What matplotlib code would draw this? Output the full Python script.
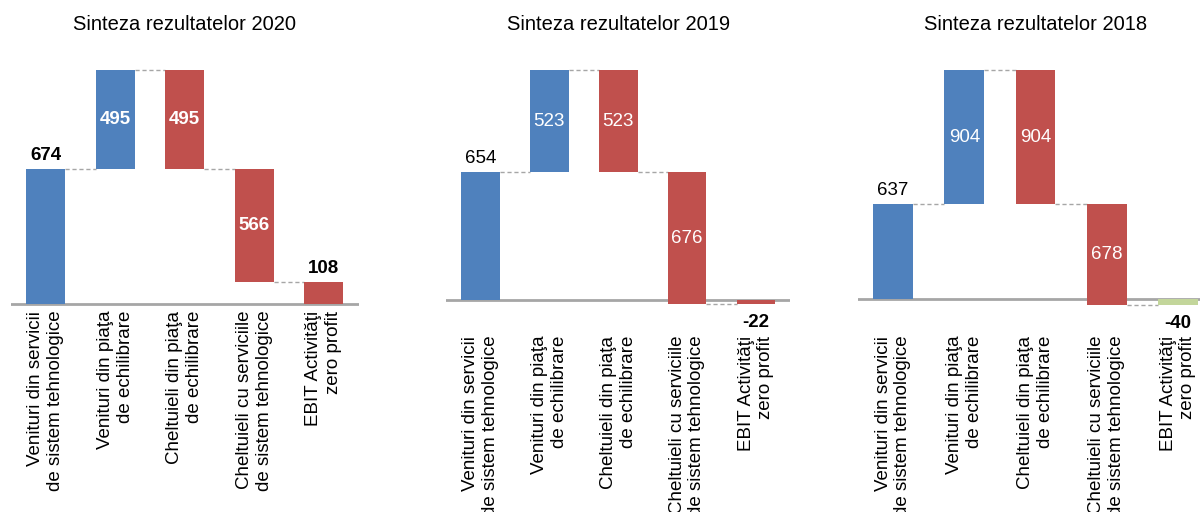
import matplotlib
matplotlib.use("Agg")
import matplotlib.pyplot as plt
import matplotlib.transforms as mtransforms

plt.rcParams['font.family'] = ['Liberation Sans', 'DejaVu Sans']

categories = [
    "Venituri din servicii\nde sistem tehnologice",
    "Venituri din piaţa\nde echilibrare",
    "Cheltuieli din piaţa\nde echilibrare",
    "Cheltuieli cu serviciile\nde sistem tehnologice",
    "EBIT Activităţi\nzero profit",
]
titles = ["Sinteza rezultatelor 2020", "Sinteza rezultatelor 2019", "Sinteza rezultatelor 2018"]
values_2020 = [674, 495, -495, -566, 108]
values_2019 = [654, 523, -523, -676, -22]
values_2018 = [637, 904, -904, -678, -40]

BLUE = "#4F81BD"
RED = "#C0504D"
GREEN = "#C3D69B"
GRAY = "#A6A6A6"

# per-panel style: total-bar colour, bold labels
total_colors = [RED, RED, GREEN]
all_bold = [True, False, False]

W, H = 1200, 512
fig = plt.figure(figsize=(W / 100, H / 100), dpi=100)

# layout (pixels): left, right, zero line, bottom of axes
layouts = [
    (11, 358.5, 304, 308),
    (446, 790.5, 300, 333),
    (857.5, 1213.5, 299, 333),
]
TOP_PX = 70

for p, (vals, title) in enumerate(zip([values_2020, values_2019, values_2018], titles)):
    left, right, zero_px, bot_px = layouts[p]
    bottoms, heights, colors = [], [], []
    cum = 0
    n = len(vals)
    for i, v in enumerate(vals):
        if i == 0:
            bottoms.append(0); heights.append(v); colors.append(BLUE); cum = v
        elif i == n - 1:
            bottoms.append(0); heights.append(v); colors.append(total_colors[p])
        else:
            bottoms.append(cum); heights.append(v)
            colors.append(BLUE if v >= 0 else RED)
            cum += v
    tops = [b + h for b, h in zip(bottoms, heights)]
    top_val = max(max(tops), max(bottoms))
    scale = (zero_px - TOP_PX) / top_val
    ymin = -(bot_px - zero_px) / scale

    ax = fig.add_axes([left / W, 1 - bot_px / H, (right - left) / W, (bot_px - TOP_PX) / H])
    ax.set_xlim(-0.5, n - 0.5)
    ax.set_ylim(ymin, top_val)
    for s in ax.spines.values():
        s.set_visible(False)
    ax.set_yticks([])
    ax.axhline(0, color=GRAY, lw=2, zorder=1)

    x = list(range(n))
    bw = 0.56
    ax.bar(x, heights, bottom=bottoms, width=bw, color=colors, zorder=2, clip_on=False)

    # connectors
    levels = []
    c = 0
    for i, v in enumerate(vals[:-1]):
        c += v
        levels.append(c)
    for i, lev in enumerate(levels):
        ax.plot([i + bw / 2, i + 1 - bw / 2], [lev, lev], color=GRAY, lw=1,
                ls=(0, (3, 2)), zorder=1, clip_on=False)

    # labels
    for i, v in enumerate(vals):
        bold = all_bold[p] or i == n - 1
        fw = "bold" if bold else "normal"
        if i == 0 or (i == n - 1 and v >= 0):
            ax.annotate(f"{v}", (i, tops[i]), xytext=(0, 4),
                        textcoords="offset points", ha="center", va="bottom",
                        fontsize=13.5, fontweight=fw, color="black", annotation_clip=False)
        elif i == n - 1:
            ax.annotate(f"{v}", (i, v), xytext=(0, -7), textcoords="offset points",
                        ha="center", va="top", fontsize=13.5, fontweight=fw,
                        color="black", annotation_clip=False)
        else:
            ax.text(i, bottoms[i] + heights[i] / 2, f"{abs(v)}", ha="center", va="center",
                    fontsize=13.5, fontweight=fw, color="white", zorder=3)

    ax.set_xticks(x)
    ax.set_xticklabels(categories, rotation=90, ha="center", va="top",
                       multialignment="right", fontsize=13.5, linespacing=1.2)
    ax.tick_params(axis="x", length=0, pad=2)

    tr = mtransforms.blended_transform_factory(ax.transAxes, fig.transFigure)
    ax.text(0.5, 1 - 25 / H, title, transform=tr, ha="center", va="center", fontsize=14.5)

fig.savefig("out.png", dpi=100)
